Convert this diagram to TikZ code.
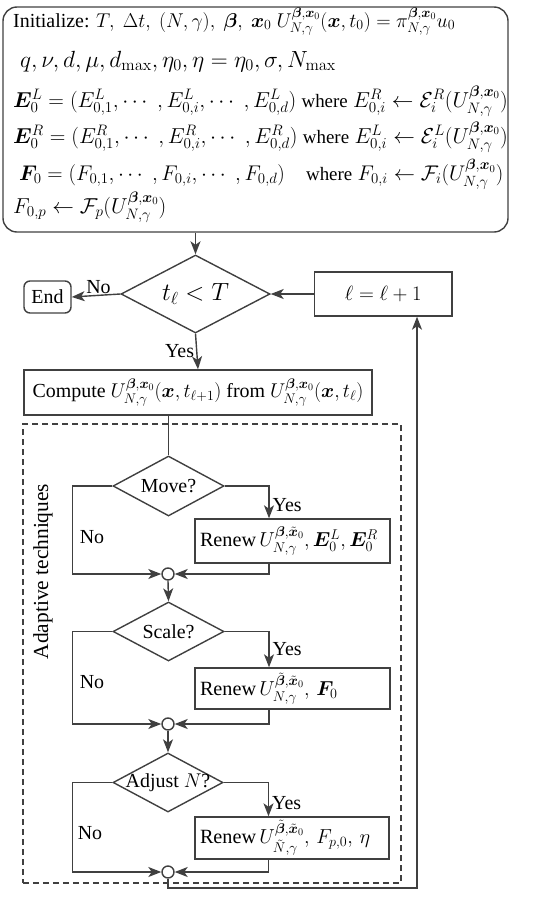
\RequirePackage{fix-cm}
\documentclass[tikz,border=0pt]{standalone}
\usepackage{amsmath,bm}
\usepackage[no-math]{fontspec}
\setmainfont{Liberation Serif}
\usetikzlibrary{shapes.geometric,arrows.meta}
\newcommand{\wh}{{\fontsize{19}{23}\selectfont where}}
\begin{document}
\begin{tikzpicture}[x=1bp,y=-1bp,
  ln/.style={draw=black!75, line width=1.4bp},
  arr/.style={ln, -{Stealth[length=13bp,width=10bp,inset=3.5bp]}},
  box/.style={ln, rectangle, inner sep=0pt},
  dec/.style={ln, diamond, inner sep=0pt},
  junc/.style={ln, circle, minimum size=12bp, inner sep=0pt, fill=white},
  txt/.style={inner sep=0pt, font=\fontsize{21.7}{26}\selectfont},
  lab/.style={inner sep=0pt, font=\fontsize{20}{24}\selectfont},
]
\useasboundingbox (0,0) rectangle (554,902);

% initialization box
\node[box, rounded corners=14bp, minimum width=505bp, minimum height=225bp] (init) at (255.5,119.5) {};
\node[txt, anchor=base west, font=\fontsize{20}{24}\selectfont] (i1) at (13,27) {Initialize: $T,\ \Delta t,\ (N,\gamma),\ \bm\beta,\ \bm x_0\ U_{N,\gamma}^{\bm\beta,\bm x_0}(\bm x,t_0)=\pi_{N,\gamma}^{\bm\beta,\bm x_0}u_0$};
\node[txt, anchor=base west, font=\fontsize{23.5}{27}\selectfont] (i2) at (20,67) {$q,\nu,d,\mu,d_{\max},\eta_0,\eta=\eta_0,\sigma,N_{\max}$};
\node[txt, anchor=base west] (i3) at (13,107) {$\bm E_0^L=(E_{0,1}^L,\cdots\;,E_{0,i}^L,\cdots\;,E_{0,d}^L)$\ \wh\ $E_{0,i}^R\leftarrow\mathcal E_i^R(U_{N,\gamma}^{\bm\beta,\bm x_0})$};
\node[txt, anchor=base west] (i4) at (13,143) {$\bm E_0^R=(E_{0,1}^R,\cdots\;,E_{0,i}^R,\cdots\;,E_{0,d}^R)$\ \wh\ $E_{0,i}^L\leftarrow\mathcal E_i^L(U_{N,\gamma}^{\bm\beta,\bm x_0})$};
\node[txt, anchor=base west, font=\fontsize{21.3}{25}\selectfont] (i5) at (19,180) {$\bm F_0=(F_{0,1},\cdots\;,F_{0,i},\cdots\;,F_{0,d})$\quad\wh\ $F_{0,i}\leftarrow\mathcal F_i(U_{N,\gamma}^{\bm\beta,\bm x_0})$};
\node[txt, anchor=base west] (i6) at (13,213) {$F_{0,p}\leftarrow\mathcal F_p(U_{N,\gamma}^{\bm\beta,\bm x_0})$};

% main loop
\node[dec, minimum width=149bp, minimum height=78bp] (dia) at (195.5,294) {};
\node[lab, font=\fontsize{25}{30}\selectfont] (diat) at (dia) {$t_\ell<T$};
\node[box, rounded corners=6bp, minimum width=47bp, minimum height=32bp] (end) at (47.5,297) {\fontsize{20}{24}\selectfont End};
\node[box, minimum width=137.5bp, minimum height=44bp] (lbox) at (383.25,294) {\fontsize{20.7}{25}\selectfont $\ell=\ell+1$};
\node[box, minimum width=348bp, minimum height=45bp] (comp) at (198,392.5) {\fontsize{20}{24}\selectfont Compute $\fontsize{20.4}{25}\selectfont U_{N,\gamma}^{\bm\beta,\bm x_0}(\bm x,t_{\ell+1})$ from $\fontsize{20.4}{25}\selectfont U_{N,\gamma}^{\bm\beta,\bm x_0}(\bm x,t_\ell)$};

% adaptive block
\node[ln, dash pattern=on 6bp off 4bp, rectangle, minimum width=378bp, minimum height=459bp] (adapt) at (212,653.5) {};
\node[lab, rotate=90, font=\fontsize{21.5}{25}\selectfont] (adt) at (43,571.5) {Adaptive techniques};

\node[dec, minimum width=111bp, minimum height=60bp] (move) at (168.5,486) {};
\node[lab] (movet) at (move) {Move?};
\node[box, text width=185bp, align=left, inner xsep=5bp, minimum height=44bp] (ren1) at (292.5,541) {\fontsize{20.3}{25}\selectfont Renew $U_{N,\gamma}^{\bm\beta,\tilde{\bm x}_0},\bm E_0^L,\bm E_0^R$};
\node[junc] (j1) at (168,574) {};

\node[dec, minimum width=111bp, minimum height=59bp] (scale) at (168.5,631.5) {};
\node[lab] (scalet) at (scale) {Scale?};
\node[box, text width=185bp, align=left, inner xsep=5bp, minimum height=41bp] (ren2) at (292.5,688.5) {\fontsize{20.3}{25}\selectfont Renew $U_{N,\gamma}^{\tilde{\bm\beta},\tilde{\bm x}_0},\ \bm F_0$};
\node[junc] (j2) at (168,724) {};

\node[dec, minimum width=110bp, minimum height=59bp] (adj) at (168,782.5) {};
\node[lab] (adjt) at (adj) {Adjust $N$?};
\node[box, text width=184bp, align=left, inner xsep=5bp, minimum height=42bp] (ren3) at (292,838) {\fontsize{20.3}{25}\selectfont Renew $U_{\tilde N,\gamma}^{\tilde{\bm\beta},\tilde{\bm x}_0},\ F_{p,0},\ \eta$};
\node[junc] (j3) at (168,872) {};
\coordinate (ret) at (417,888);

% connectors
\draw[arr] (dia.north |- init.south) -- (dia.north);
\draw[arr] (dia.west) -- (end.east) node[lab, pos=0.45, above=1bp] (no0) {No};
\draw[arr] (lbox.west) -- (dia.east);
\draw[arr] (dia.south) -- (comp.north) node[lab, midway, left=2bp] (yes0) {Yes};
\draw[ln] (move.north |- comp.south) -- (move.north);

\draw[arr] (move.east) -| ([xshift=-23.5bp]ren1.north) node[lab, pos=0.8, right=3bp] (yes1) {Yes};
\draw[arr] (move.west) -- ++(-40,0) |- (j1.west);
\draw[arr] ([xshift=-23.5bp]ren1.south) |- (j1.east);
\node[lab] (no1) at (92,537) {No};
\draw[arr] (j1.south) -- (scale.north);

\draw[arr] (scale.east) -| ([xshift=-23.5bp]ren2.north) node[lab, pos=0.75, right=3bp] (yes2) {Yes};
\draw[arr] (scale.west) -- ++(-40,0) |- (j2.west);
\draw[arr] ([xshift=-23.5bp]ren2.south) |- (j2.east);
\node[lab] (no2) at (92,682) {No};
\draw[arr] (j2.south) -- (adj.north);

\draw[arr] (adj.east) -| ([xshift=-23.5bp]ren3.north) node[lab, pos=0.8, right=3bp] (yes3) {Yes};
\draw[arr] (adj.west) -- ++(-40,0) |- (j3.west);
\draw[arr] ([xshift=-23.5bp]ren3.south) |- (j3.east);
\node[lab] (no3) at (90,833) {No};
\draw[arr] (j3.south) |- (ret) -- (ret |- lbox.south);
\end{tikzpicture}
\end{document}
